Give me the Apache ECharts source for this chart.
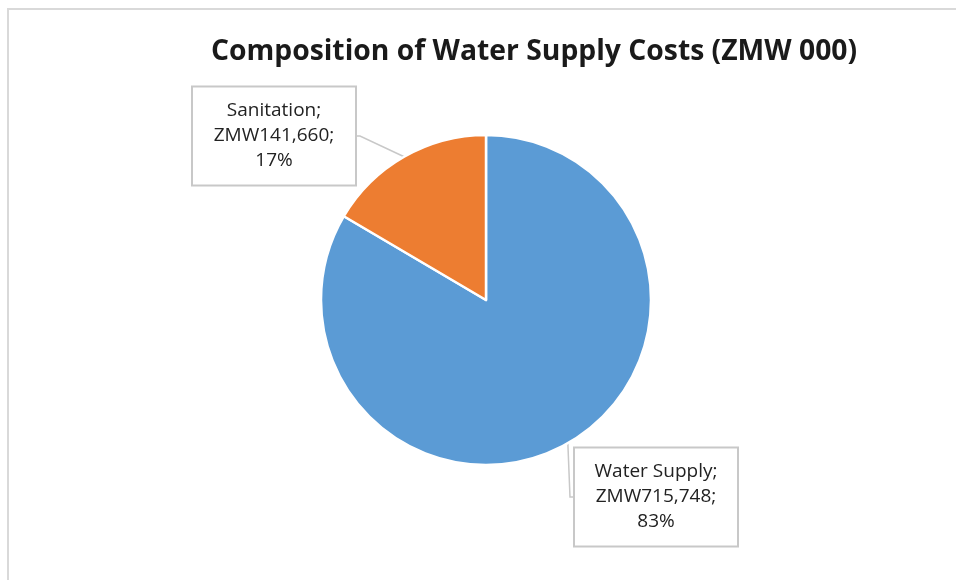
<!DOCTYPE html>
<html><head><meta charset="utf-8">
<script src="https://cdn.jsdelivr.net/npm/echarts@6/dist/echarts.min.js"></script>
<style>html,body{margin:0;padding:0;background:#fff}#c{width:956px;height:580px}</style>
</head><body><div id="c"></div>
<script>
const categories = ['Water Supply', 'Sanitation'];
const values = [715748, 141660];
const colors = ['#5B9BD5', '#ED7D31'];
const titleText = 'Composition of Water Supply Costs (ZMW 000)';
const labelPos = [[656, 497], [274, 136]];

const chart = echarts.init(document.getElementById('c'));
chart.setOption({
  animation: false,
  graphic: [{type: 'rect', shape: {x: 8, y: 9, width: 960, height: 600},
    style: {fill: 'none', stroke: '#d9d9d9', lineWidth: 2}, silent: true}],
  title: {text: titleText, left: 529, top: 33, textAlign: 'center',
    textStyle: {fontFamily: 'Open Sans', fontWeight: 'bold', fontSize: 28.3, color: '#1a1a1a'}},
  series: [{
    type: 'pie', center: [486, 300], radius: 165, startAngle: 90, clockwise: true,
    percentPrecision: 0,
    itemStyle: {borderColor: '#fff', borderWidth: 2.5},
    data: categories.map((n, i) => ({name: n, value: values[i], itemStyle: {color: colors[i]}})),
    label: {show: true, position: 'outside',
      formatter: p => p.name + ';\nZMW' + echarts.format.addCommas(p.value) + ';\n' + p.percent + '%',
      fontFamily: 'Open Sans', fontSize: 19, lineHeight: 25, color: '#222', align: 'center',
      backgroundColor: '#fff', borderColor: '#c8c8c8', borderWidth: 2,
      width: 152, padding: [11, 5, 11, 5]},
    labelLine: {show: true, length: 3, length2: 3, lineStyle: {color: '#c8c8c8', width: 1.5}},
    labelLayout: p => ({x: labelPos[p.dataIndex][0], y: labelPos[p.dataIndex][1], align: 'center', verticalAlign: 'middle'})
  }]
});
</script></body></html>
